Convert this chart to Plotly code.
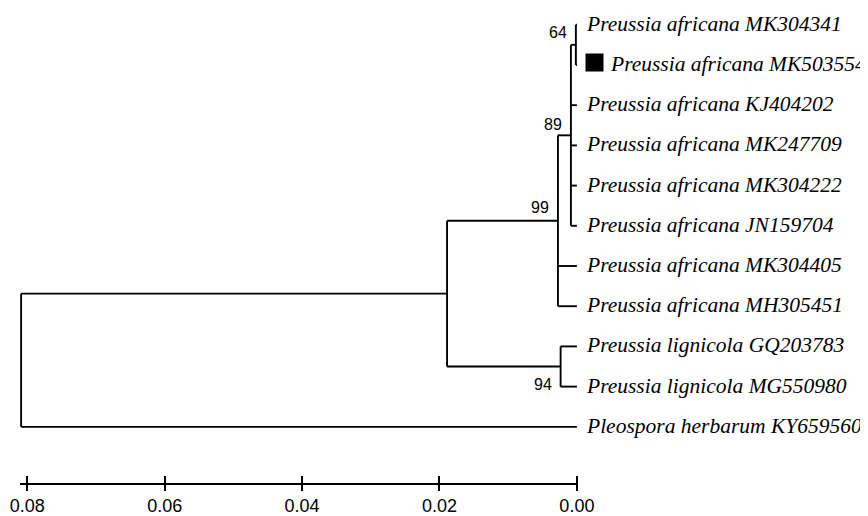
import plotly.graph_objects as go

# ---------------- data ----------------
taxa = [
    "Preussia africana MK304341",
    "Preussia africana MK503554",
    "Preussia africana KJ404202",
    "Preussia africana MK247709",
    "Preussia africana MK304222",
    "Preussia africana JN159704",
    "Preussia africana MK304405",
    "Preussia africana MH305451",
    "Preussia lignicola GQ203783",
    "Preussia lignicola MG550980",
    "Pleospora herbarum KY659560",
]
tip_heights = [0.0, 0.0, 0.0, 0.0, 0.0, 0.0, 0.0, 0.0, 0.0, 0.0, 0.0]

node_names = ["n64", "n89", "n99", "nlig", "npre", "root"]
node_heights = [0.00015, 0.00087, 0.00276, 0.00237, 0.0189, 0.0809]
node_children = [
    ["t0", "t1"],
    ["n64", "t2", "t3", "t4", "t5"],
    ["n89", "t6", "t7"],
    ["t8", "t9"],
    ["n99", "nlig"],
    ["npre", "t10"],
]
bootstrap = ["64", "89", "99", "94", "", ""]
highlighted = "Preussia africana MK503554"

tick_vals = [0.08, 0.06, 0.04, 0.02, 0.00]
tick_text = ["0.08", "0.06", "0.04", "0.02", "0.00"]

# ---------------- tree geometry ----------------
pos = {}
for i, h in enumerate(tip_heights):
    pos[f"t{i}"] = (h, i)
for name, h, ch in zip(node_names, node_heights, node_children):
    ys = [pos[c][1] for c in ch]
    pos[name] = (h, (ys[0] + ys[-1]) / 2)

xs, ys = [], []
for name, ch in zip(node_names, node_children):
    nx, ny = pos[name]
    xs += [nx, nx, None]
    ys += [pos[ch[0]][1], pos[ch[-1]][1], None]
    for c in ch:
        cx, cy = pos[c]
        xs += [nx, cx, None]
        ys += [cy, cy, None]

fig = go.Figure()
fig.add_trace(go.Scatter(x=xs, y=ys, mode="lines",
                         line=dict(color="black", width=1.9),
                         hoverinfo="skip", showlegend=False))
fig.add_trace(go.Scatter(x=[tick_vals[-1]], y=[pos["t0"][1]], xaxis="x2",
                         mode="markers", marker=dict(opacity=0),
                         hoverinfo="skip", showlegend=False))

ann = []
for i, t in enumerate(taxa):
    hx, hy = pos[f"t{i}"]
    shift = 31 if t == highlighted else 7
    ann.append(dict(x=hx, y=hy, xref="x", yref="y", text=f"<i>{t}</i>",
                    showarrow=False, xanchor="left", yanchor="middle",
                    xshift=shift, yshift=1,
                    font=dict(family="Liberation Serif", size=21.5, color="black")))
    if t == highlighted:
        ann.append(dict(x=hx, y=hy, xref="x", yref="y", text=" ",
                        showarrow=False, xanchor="left", yanchor="middle",
                        xshift=8, yshift=2, width=17, height=17, borderpad=0,
                        bgcolor="black"))

placement = {"64": 12, "89": 11, "99": 13, "94": -18}
for name, b in zip(node_names, bootstrap):
    if not b:
        continue
    nx, ny = pos[name]
    ann.append(dict(x=nx, y=ny, xref="x", yref="y", text=b, showarrow=False,
                    xanchor="right", yanchor="middle", xshift=-7,
                    yshift=placement[b],
                    font=dict(family="Liberation Sans", size=16, color="black")))

root_h = node_heights[-1]
xr = [root_h * 1.002, -root_h * 0.002]
yr = [11.397, -0.4167]

fig.update_layout(
    width=860, height=508,
    margin=dict(l=12, r=290, t=0, b=26),
    paper_bgcolor="white", plot_bgcolor="white",
    showlegend=False,
    annotations=ann,
    xaxis=dict(range=xr, showgrid=False, zeroline=False, showline=True,
               linecolor="black", linewidth=1.6,
               ticks="outside", ticklen=6, tickwidth=1.6, tickcolor="black",
               tickvals=tick_vals, ticktext=tick_text,
               tickfont=dict(family="Liberation Sans", size=18, color="black"),
               fixedrange=True),
    xaxis2=dict(range=xr, overlaying="x", anchor="y", side="bottom",
                showgrid=False, zeroline=False, showline=False,
                ticks="inside", ticklen=7, tickwidth=1.6, tickcolor="black",
                tickvals=tick_vals, showticklabels=False, fixedrange=True),
    yaxis=dict(range=yr, visible=False, fixedrange=True),
)

fig.write_html("out.html")
